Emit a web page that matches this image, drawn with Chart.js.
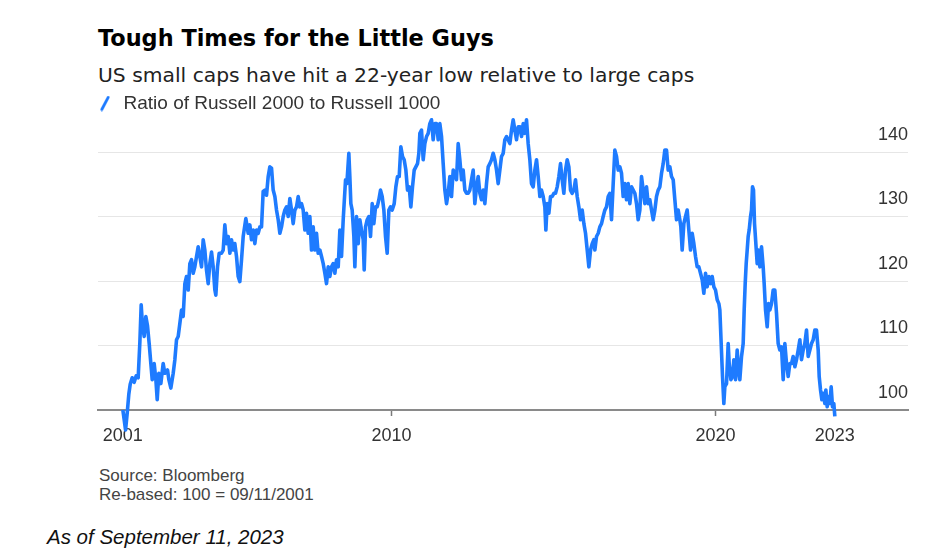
<!DOCTYPE html>
<html>
<head>
<meta charset="utf-8">
<script src="https://cdn.jsdelivr.net/npm/chart.js@4.4.0/dist/chart.umd.min.js"></script>
<style>
  html, body { margin: 0; padding: 0; background: #fff; }
  body { width: 940px; height: 560px; position: relative; overflow: hidden;
         font-family: "Liberation Sans", Arial, sans-serif; }
  .title { position: absolute; left: 98px; top: 25px; line-height: 1;
           font: bold 22.4px "DejaVu Sans", sans-serif; color: #000; white-space: nowrap; }
  .subtitle { position: absolute; left: 98px; top: 63px; line-height: 1;
              font: 20.3px "DejaVu Sans", sans-serif; color: #222; white-space: nowrap; }
  .source { position: absolute; left: 99px; top: 466px; font-size: 17px; line-height: 19px; color: #444; }
  .note { position: absolute; left: 47px; top: 527px; font-size: 20.5px; line-height: 1;
          font-style: italic; color: #111; }
  #wrap { position: absolute; left: 0; top: 80px; width: 940px; height: 380px; }
</style>
</head>
<body>
<div class="title">Tough Times for the Little Guys</div>
<div class="subtitle">US small caps have hit a 22-year low relative to large caps</div>
<div id="wrap"><canvas id="chart" width="940" height="380"></canvas></div>
<div class="source">Source: Bloomberg<br>Re-based: 100 = 09/11/2001</div>
<div class="note">As of September 11, 2023</div>

<script>
// decimal years (09/11/2001 .. 09/11/2023)
const years = [
  2001.707, 2001.748, 2001.790, 2001.841, 2001.892, 2001.934, 2001.995, 2002.057, 2002.119, 2002.180,
  2002.232, 2002.273, 2002.314, 2002.366, 2002.417, 2002.469, 2002.520, 2002.571, 2002.613, 2002.674,
  2002.726, 2002.767, 2002.818, 2002.880, 2002.952, 2003.003, 2003.086, 2003.127, 2003.189, 2003.261,
  2003.312, 2003.364, 2003.415, 2003.466, 2003.518, 2003.569, 2003.621, 2003.672, 2003.724, 2003.775,
  2003.826, 2003.878, 2003.929, 2003.981, 2004.032, 2004.084, 2004.135, 2004.187, 2004.238, 2004.289,
  2004.341, 2004.392, 2004.444, 2004.495, 2004.547, 2004.577, 2004.629, 2004.680,
  2004.752, 2004.804, 2004.855, 2004.907, 2004.958, 2005.010, 2005.061, 2005.113, 2005.164, 2005.215,
  2005.267, 2005.318, 2005.370, 2005.421, 2005.503, 2005.575, 2005.627, 2005.678, 2005.730, 2005.781,
  2005.833, 2005.884, 2005.936, 2005.987, 2006.038, 2006.090, 2006.141, 2006.193, 2006.244, 2006.296,
  2006.347, 2006.399, 2006.450, 2006.502, 2006.553, 2006.604, 2006.656, 2006.707, 2006.759, 2006.810,
  2006.862, 2006.913, 2006.964, 2007.016, 2007.067, 2007.119, 2007.170, 2007.222, 2007.273, 2007.325,
  2007.376, 2007.427, 2007.479, 2007.530, 2007.582, 2007.633, 2007.685, 2007.736, 2007.788, 2007.839,
  2007.891, 2007.942, 2007.993, 2008.045, 2008.096, 2008.148, 2008.199, 2008.251, 2008.302, 2008.354,
  2008.405, 2008.456, 2008.508,
  2008.580, 2008.621, 2008.682, 2008.713, 2008.744, 2008.785, 2008.837, 2008.868, 2008.919, 2008.971,
  2009.022, 2009.073, 2009.125, 2009.156, 2009.197, 2009.248, 2009.300, 2009.351, 2009.403, 2009.454,
  2009.506, 2009.557, 2009.608, 2009.660, 2009.711, 2009.763, 2009.814, 2009.866, 2009.917, 2009.968,
  2010.020, 2010.082, 2010.133, 2010.184, 2010.236, 2010.287, 2010.339, 2010.390, 2010.442, 2010.493,
  2010.545, 2010.596, 2010.647, 2010.699, 2010.750, 2010.802, 2010.843, 2010.874, 2010.925, 2010.977,
  2011.028, 2011.080, 2011.131, 2011.182, 2011.234, 2011.285, 2011.337, 2011.388, 2011.440, 2011.491,
  2011.543, 2011.594, 2011.645, 2011.697, 2011.748, 2011.800, 2011.851, 2011.903, 2011.954, 2012.005,
  2012.057, 2012.108, 2012.160, 2012.211, 2012.263, 2012.314, 2012.366,
  2012.417, 2012.468, 2012.520, 2012.571, 2012.623, 2012.674, 2012.726, 2012.777, 2012.829, 2012.880,
  2012.931, 2012.983, 2013.034, 2013.086, 2013.137, 2013.189, 2013.240, 2013.291, 2013.343, 2013.394,
  2013.446, 2013.497, 2013.549, 2013.600, 2013.652, 2013.703, 2013.754, 2013.806, 2013.857, 2013.909,
  2013.960, 2014.012, 2014.063, 2014.115, 2014.166, 2014.217, 2014.269, 2014.320, 2014.372, 2014.423,
  2014.475, 2014.526, 2014.578, 2014.629, 2014.680, 2014.732, 2014.763, 2014.804, 2014.855, 2014.907,
  2014.958, 2015.010, 2015.061, 2015.113, 2015.164, 2015.215, 2015.267, 2015.318, 2015.370, 2015.421,
  2015.473, 2015.524, 2015.576, 2015.627, 2015.678, 2015.730, 2015.781, 2015.833, 2015.884, 2015.936,
  2015.987, 2016.039, 2016.090, 2016.142, 2016.193, 2016.245,
  2016.275, 2016.326, 2016.378, 2016.429, 2016.481, 2016.532, 2016.584, 2016.635, 2016.687, 2016.738,
  2016.789, 2016.841, 2016.892, 2016.944, 2016.995, 2017.047, 2017.098, 2017.149, 2017.201, 2017.252,
  2017.304, 2017.355, 2017.407, 2017.458, 2017.510, 2017.561, 2017.612, 2017.664, 2017.715, 2017.767,
  2017.818, 2017.870, 2017.921, 2017.972, 2018.024, 2018.075, 2018.127, 2018.178, 2018.230, 2018.281,
  2018.333, 2018.384, 2018.435, 2018.487, 2018.538, 2018.590, 2018.641, 2018.693, 2018.744, 2018.796,
  2018.847, 2018.898, 2018.929, 2018.970, 2019.022, 2019.073, 2019.125, 2019.176, 2019.228, 2019.279,
  2019.331, 2019.382, 2019.433, 2019.485, 2019.536, 2019.588, 2019.639, 2019.691, 2019.742, 2019.794,
  2019.845, 2019.897, 2019.948, 2019.999, 2020.051, 2020.102,
  2020.133, 2020.174, 2020.215, 2020.256, 2020.287, 2020.339, 2020.390, 2020.421, 2020.473, 2020.524,
  2020.565, 2020.617, 2020.668, 2020.709, 2020.750, 2020.802, 2020.853, 2020.884, 2020.915, 2020.946,
  2020.977, 2021.007, 2021.038, 2021.080, 2021.110, 2021.141, 2021.172, 2021.203, 2021.244, 2021.285,
  2021.326, 2021.368, 2021.419, 2021.470, 2021.501, 2021.543, 2021.594, 2021.635, 2021.676, 2021.728,
  2021.779, 2021.830, 2021.882, 2021.933, 2021.985, 2022.036, 2022.088, 2022.139, 2022.191, 2022.242,
  2022.293, 2022.345, 2022.396, 2022.448, 2022.499, 2022.551, 2022.602, 2022.653, 2022.705, 2022.756,
  2022.808, 2022.859, 2022.911, 2022.962, 2023.014, 2023.065, 2023.116, 2023.168, 2023.199, 2023.240,
  2023.281, 2023.322, 2023.374, 2023.405, 2023.446, 2023.487, 2023.528, 2023.569, 2023.610, 2023.651,
  2023.682
];

// Russell 2000 / Russell 1000, rebased to 100
const ratio = [
  100.0, 98.5, 96.9, 99.5, 102.5, 104.0, 105.0, 104.3, 105.3, 105.0,
  110.5, 116.3, 113.0, 111.4, 114.5, 113.0, 110.3, 107.2, 104.7, 107.2,
  104.7, 101.6, 105.7, 104.1, 107.2, 105.7, 106.2, 104.7, 103.4, 105.7,
  107.8, 110.9, 111.4, 113.4, 115.5, 114.5, 119.6, 120.7, 118.6, 122.7,
  123.3, 121.2, 122.2, 123.8, 125.3, 123.8, 122.2, 126.4, 124.8, 121.7,
  119.6, 122.7, 124.5, 122.2, 118.6, 117.8, 122.2, 124.3,
  124.3, 124.8, 128.7, 125.8, 126.9, 124.3, 126.4, 124.8, 125.8, 123.8,
  120.7, 119.9, 123.3, 126.9, 129.7, 127.4, 128.7, 126.4, 127.9, 125.8,
  127.9, 127.4, 128.4, 128.4, 133.9, 134.1, 133.3, 136.2, 137.7, 137.5,
  134.1, 133.1, 131.0, 129.5, 127.4, 128.4, 130.0, 131.0, 131.5, 130.0,
  132.8, 131.0, 128.9, 131.0, 131.5, 133.1, 131.5, 132.0, 131.0, 127.9,
  130.5, 127.4, 130.0, 124.8, 128.4, 124.8, 127.4, 124.3, 124.8, 123.8,
  122.7, 121.2, 119.6, 122.2, 120.7, 122.2, 122.7, 121.2, 123.3, 122.2,
  127.9, 123.8, 129.5,
  135.7, 135.1, 139.8, 136.2, 132.0, 131.0, 126.9, 122.2, 130.0, 125.8,
  129.5, 127.9, 126.4, 121.7, 128.4, 129.5, 130.0, 126.9, 132.0, 128.9,
  131.5, 131.5, 132.6, 134.1, 133.1, 131.0, 126.9, 124.3, 131.0, 131.5,
  131.0, 132.0, 134.6, 136.2, 136.2, 140.8, 139.3, 138.8, 137.2, 134.1,
  134.6, 131.5, 134.6, 137.2, 137.7, 138.2, 139.8, 142.9, 143.4, 138.8,
  141.3, 142.4, 142.9, 144.4, 145.0, 141.9, 144.4, 144.4, 141.9, 144.4,
  142.4, 138.2, 134.1, 132.0, 133.6, 136.2, 133.1, 137.2, 136.7, 135.7,
  141.3, 138.8, 135.7, 137.2, 134.1, 133.6, 133.6,
  134.1, 135.7, 137.2, 132.0, 134.6, 136.2, 133.6, 132.6, 134.1, 132.0,
  135.1, 137.7, 138.2, 138.8, 139.8, 138.8, 137.2, 135.1, 137.2, 139.3,
  139.8, 141.9, 142.4, 141.9, 141.3, 143.4, 145.0, 143.4, 141.9, 143.9,
  143.9, 142.4, 144.4, 142.9, 145.0, 141.3, 138.8, 135.1, 134.6, 137.2,
  138.8, 136.2, 133.1, 134.1, 133.1, 131.5, 127.9, 132.0, 130.5, 133.1,
  133.1, 133.6, 133.6, 134.6, 136.2, 138.2, 135.7, 133.6, 137.2, 138.8,
  137.7, 134.1, 133.6, 134.1, 135.7, 133.1, 131.5, 129.5, 131.0, 128.9,
  127.4, 124.8, 122.2, 124.8, 125.8, 126.4,
  124.8, 126.9, 127.4, 128.4, 128.9, 130.0, 131.0, 131.5, 133.1, 133.6,
  129.5, 135.1, 140.3, 139.3, 137.2, 137.7, 136.7, 133.1, 135.1, 132.6,
  135.1, 132.0, 134.6, 134.1, 133.6, 132.0, 129.5, 131.0, 136.2, 134.1,
  132.0, 134.6, 132.0, 132.6, 131.0, 129.5, 131.0, 133.1, 134.1, 134.6,
  136.7, 138.2, 140.3, 140.3, 137.2, 137.7, 136.2, 135.7, 132.6, 129.5,
  131.0, 129.5, 128.4, 124.8, 128.9, 130.0, 131.0, 127.9, 124.8, 127.4,
  125.8, 123.8, 122.2, 122.2, 121.2, 120.2, 118.1, 121.2, 119.1, 120.7,
  119.6, 120.7, 119.1, 118.6, 117.1, 116.5,
  115.5, 110.3, 105.2, 101.0, 103.6, 104.1, 110.3, 107.2, 104.7, 105.2,
  107.8, 104.7, 109.3, 106.2, 104.7, 108.3, 110.3, 115.5, 119.6, 122.7,
  124.8, 126.9, 127.9, 130.0, 131.0, 134.6, 134.1, 128.9, 125.8, 122.7,
  124.8, 122.2, 125.3, 122.2, 119.6, 115.5, 112.9, 116.5, 115.5, 116.5,
  118.6, 118.6, 115.0, 110.3, 109.3, 109.8, 104.7, 110.3, 107.2, 105.2,
  107.2, 107.2, 108.3, 106.7, 107.8, 109.3, 110.9, 107.8, 109.3, 110.3,
  112.4, 108.3, 109.3, 110.3, 110.9, 112.4, 112.4, 109.3, 105.2, 103.1,
  101.6, 102.6, 101.0, 103.1, 100.5, 102.1, 101.0, 103.6, 100.5, 101.0,
  99.0
];

const xTickValues = [2001.707, 2010, 2020, 2023.682];
const xTickLabels = ['2001', '2010', '2020', '2023'];
const xTickMarks = [2010, 2020];
const yTickValues = [100, 110, 120, 130, 140];

const lineBlue = '#1e7bff';

// little slash used as the legend marker
const slash = document.createElement('canvas');
slash.width = 14;
slash.height = 16;
const sg = slash.getContext('2d');
sg.strokeStyle = lineBlue;
sg.lineWidth = 2.8;
sg.lineCap = 'round';
sg.beginPath();
sg.moveTo(1.8, 14);
sg.lineTo(8.2, 1.8);
sg.stroke();

Chart.defaults.font.family = '"Liberation Sans", Arial, sans-serif';

new Chart(document.getElementById('chart'), {
  type: 'line',
  data: {
    datasets: [{
      label: 'Ratio of Russell 2000 to Russell 1000',
      data: years.map((yr, i) => ({ x: yr, y: ratio[i] })),
      borderColor: lineBlue,
      backgroundColor: lineBlue,
      borderWidth: 3.6,
      borderJoinStyle: 'round',
      pointRadius: 0,
      pointStyle: slash,
      tension: 0,
      clip: false
    }]
  },
  options: {
    responsive: false,
    animation: false,
    events: [],
    layout: {
      padding: { top: 12, left: 98, right: 32, bottom: 10 }
    },
    scales: {
      x: {
        type: 'linear',
        min: 2000.94,
        max: 2025.94,
        afterBuildTicks: s => { s.ticks = xTickValues.map(v => ({ value: v })); },
        afterFit: s => { s.height = 40; s.paddingLeft = 0; s.paddingRight = 0; },
        border: { display: true, color: '#8a8a8a', width: 2 },
        grid: {
          drawOnChartArea: false,
          drawTicks: true,
          tickLength: 6,
          tickWidth: 1.5,
          color: c => (c.tick && xTickMarks.includes(c.tick.value)) ? '#7a7a7a' : 'rgba(0,0,0,0)'
        },
        ticks: {
          autoSkip: false,
          maxRotation: 0,
          padding: 9,
          color: '#333',
          font: { size: 18 },
          callback: (v, i) => xTickLabels[i]
        }
      },
      y: {
        position: 'right',
        min: 100,
        max: 144.5,
        afterBuildTicks: s => { s.ticks = yTickValues.map(v => ({ value: v })); },
        afterFit: s => { s.width = 0; s.paddingTop = 0; s.paddingBottom = 0; },
        border: { display: false },
        grid: {
          drawTicks: false,
          lineWidth: 1,
          color: c => (c.tick && c.tick.value === 100) ? 'rgba(0,0,0,0)' : '#e6e6e6'
        },
        ticks: {
          mirror: true,
          padding: 0,
          labelOffset: -17,
          color: '#333',
          font: { size: 18 }
        }
      }
    },
    plugins: {
      legend: {
        display: true,
        position: 'top',
        align: 'start',
        labels: {
          usePointStyle: true,
          pointStyle: slash,
          boxWidth: 14,
          padding: 2,
          color: '#333',
          font: { size: 19 }
        }
      },
      tooltip: { enabled: false }
    }
  }
});
</script>
</body>
</html>
